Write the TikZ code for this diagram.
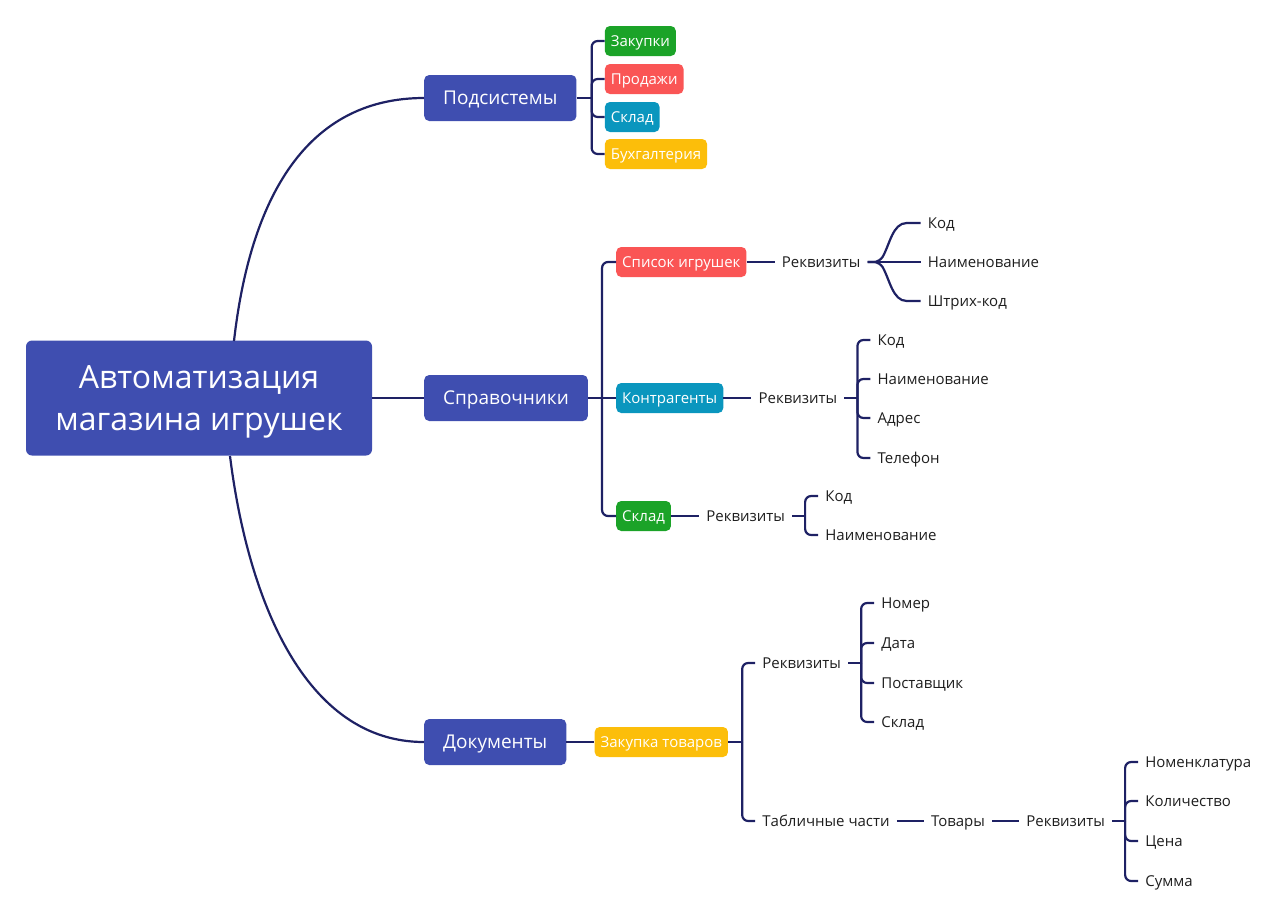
\documentclass[tikz,border=0pt]{standalone}
\usepackage{fontspec}
\setmainfont{Open Sans}
\usetikzlibrary{positioning}

\definecolor{topicc}{RGB}{63,78,176}
\definecolor{linkc}{RGB}{30,33,100}
\definecolor{grn}{RGB}{27,163,40}
\definecolor{rd}{RGB}{250,85,85}
\definecolor{tl}{RGB}{10,150,190}
\definecolor{ylw}{RGB}{252,190,10}
\definecolor{ink}{RGB}{30,30,30}

\begin{document}
\begin{tikzpicture}[x=1pt,y=-1pt,node distance=28pt]
	\tikzstyle{root}=[fill=topicc,text=white,rounded corners=6pt,minimum width=346pt,minimum height=115pt,align=center,text depth=0pt,font=\fontsize{32}{42}\selectfont]
	\tikzstyle{topic}=[fill=topicc,text=white,rounded corners=5pt,minimum height=46pt,inner xsep=19pt,text height=16pt,text depth=4pt,font=\fontsize{19}{22}\selectfont]
	\tikzstyle{tag}=[text=white,rounded corners=5pt,minimum height=30pt,inner xsep=6pt,text height=13pt,text depth=3pt,font=\fontsize{15}{18}\selectfont]
	\tikzstyle{leaf}=[text=ink,inner xsep=7pt,inner ysep=2pt,text height=13pt,text depth=3pt,font=\fontsize{15}{18}\selectfont]
	\tikzstyle{link}=[draw=linkc,line width=2.2pt,rounded corners=6pt]

	\useasboundingbox (0,0) rectangle (1280,916);

	\node[root] (root) at (199,398) {Автоматизация\\магазина игрушек};
	\node[topic,anchor=west] (sub) at (424,98) {Подсистемы};
	\node[topic,anchor=west] (spr) at (424,398) {Справочники};
	\node[topic,anchor=west] (doc) at (424,742) {Документы};
	\coordinate (rt) at (234,341);
	\coordinate (rb) at (230,456);

	% подсистемы
	\node[tag,fill=grn,right=28pt of sub,yshift=57pt] (buy) {Закупки};
	\node[tag,fill=rd,right=28pt of sub,yshift=19pt] (sell) {Продажи};
	\node[tag,fill=tl,right=28pt of sub,yshift=-19pt] (stor) {Склад};
	\node[tag,fill=ylw,right=28pt of sub,yshift=-56pt] (acc) {Бухгалтерия};

	% справочники
	\node[tag,fill=rd,right=28pt of spr,yshift=136pt] (toys) {Список игрушек};
	\node[tag,fill=tl,right=28pt of spr] (cont) {Контрагенты};
	\node[tag,fill=grn,right=28pt of spr,yshift=-118pt] (wh) {Склад};

	\node[leaf,right=28pt of toys] (toysR) {Реквизиты};
	\node[leaf,right=53pt of toysR,yshift=39pt] (toysA) {Код};
	\node[leaf,right=53pt of toysR] (toysB) {Наименование};
	\node[leaf,right=53pt of toysR,yshift=-39pt] (toysC) {Штрих-код};

	\node[leaf,right=28pt of cont] (contR) {Реквизиты};
	\node[leaf,right=26pt of contR,yshift=58pt] (contA) {Код};
	\node[leaf,right=26pt of contR,yshift=19pt] (contB) {Наименование};
	\node[leaf,right=26pt of contR,yshift=-20pt] (contC) {Адрес};
	\node[leaf,right=26pt of contR,yshift=-60pt] (contD) {Телефон};

	\node[leaf,right=28pt of wh] (whR) {Реквизиты};
	\node[leaf,right=26pt of whR,yshift=20pt] (whA) {Код};
	\node[leaf,right=26pt of whR,yshift=-19pt] (whB) {Наименование};

	% документы
	\node[tag,fill=ylw,right=28pt of doc] (purch) {Закупка товаров};
	\node[leaf,right=27pt of purch,yshift=79pt] (purR) {Реквизиты};
	\node[leaf,right=27pt of purch,yshift=-79pt] (tab) {Табличные части};
	\node[leaf,right=26pt of purR,yshift=60pt] (purA) {Номер};
	\node[leaf,right=26pt of purR,yshift=20pt] (purB) {Дата};
	\node[leaf,right=26pt of purR,yshift=-20pt] (purC) {Поставщик};
	\node[leaf,right=26pt of purR,yshift=-59pt] (purD) {Склад};

	\node[leaf,right=27pt of tab] (goods) {Товары};
	\node[leaf,right=27pt of goods] (goodsR) {Реквизиты};
	\node[leaf,right=26pt of goodsR,yshift=59pt] (goodsA) {Номенклатура};
	\node[leaf,right=26pt of goodsR,yshift=20pt] (goodsB) {Количество};
	\node[leaf,right=26pt of goodsR,yshift=-20pt] (goodsC) {Цена};
	\node[leaf,right=26pt of goodsR,yshift=-60pt] (goodsD) {Сумма};

	% links
	\draw[link] (rt) .. controls (250,200) and (305,98) .. (sub.west);
	\draw[link] (rb) .. controls (248,600) and (305,742) .. (doc.west);
	\draw[link] (root) -- (spr);

	\draw[link] (sub.east) -- ++(15,0) coordinate (subJ);
	\foreach \c in {buy,sell,stor,acc}
		\draw[link] (subJ) |- (\c.west);
	\draw[link] (spr.east) -- ++(14,0) coordinate (sprJ);
	\foreach \c in {toys,wh}
		\draw[link] (sprJ) |- (\c.west);
	\draw[link] (spr) -- (cont);

	\draw[link] (toys) -- (toysR);
	\draw[link] (toysR.east) -- ++(12,0) to[out=60,in=180] ++(33,-39) -- (toysA.west);
	\draw[link] (toysR) -- (toysB);
	\draw[link] (toysR.east) -- ++(12,0) to[out=-60,in=180] ++(33,39) -- (toysC.west);

	\draw[link] (cont) -- (contR);
	\draw[link] (contR.east) -- ++(13,0) coordinate (contJ);
	\foreach \c in {contA,contB,contC,contD}
		\draw[link] (contJ) |- (\c.west);

	\draw[link] (wh) -- (whR);
	\draw[link] (whR.east) -- ++(13,0) coordinate (whJ);
	\foreach \c in {whA,whB}
		\draw[link] (whJ) |- (\c.west);

	\draw[link] (doc) -- (purch);
	\draw[link] (purch.east) -- ++(14,0) coordinate (purchJ);
	\foreach \c in {purR,tab}
		\draw[link] (purchJ) |- (\c.west);
	\draw[link] (purR.east) -- ++(13,0) coordinate (purJ);
	\foreach \c in {purA,purB,purC,purD}
		\draw[link] (purJ) |- (\c.west);

	\draw[link] (tab) -- (goods);
	\draw[link] (goods) -- (goodsR);
	\draw[link] (goodsR.east) -- ++(13,0) coordinate (goodsJ);
	\foreach \c in {goodsA,goodsB,goodsC,goodsD}
		\draw[link] (goodsJ) |- (\c.west);
\end{tikzpicture}
\end{document}
